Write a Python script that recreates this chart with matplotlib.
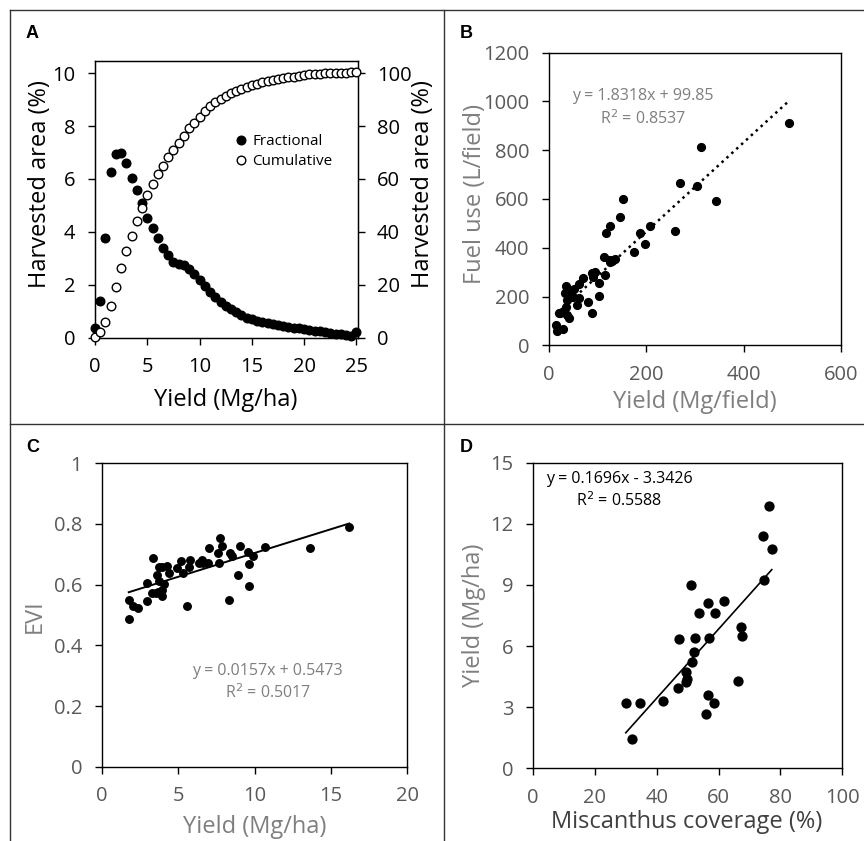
import numpy as np
import matplotlib
matplotlib.use("Agg")
import matplotlib.pyplot as plt
from matplotlib.lines import Line2D

plt.rcParams['font.family'] = ['Open Sans', 'DejaVu Sans']

# ---- panel A data: harvested area vs yield ----
a_yield = [0, 0.5, 1, 1.5, 2, 2.5, 3, 3.5, 4, 4.5, 5, 5.5, 6, 6.5, 7, 7.5, 8, 8.5, 9, 9.5,
           10, 10.5, 11, 11.5, 12, 12.5, 13, 13.5, 14, 14.5, 15, 15.5, 16, 16.5, 17, 17.5,
           18, 18.5, 19, 19.5, 20, 20.5, 21, 21.5, 22, 22.5, 23, 23.5, 24, 24.5, 25]
a_fractional = [0.35, 1.38, 3.78, 6.28, 6.94, 6.98, 6.62, 6.05, 5.57, 5.09, 4.54, 4.16, 3.77,
                3.38, 3.12, 2.87, 2.77, 2.75, 2.6, 2.4, 2.2, 1.97, 1.73, 1.55, 1.35, 1.2,
                1.08, 0.97, 0.85, 0.76, 0.7, 0.64, 0.6, 0.55, 0.5, 0.47, 0.45, 0.42, 0.38,
                0.35, 0.32, 0.3, 0.27, 0.25, 0.21, 0.17, 0.14, 0.13, 0.12, 0.07, 0.2]
a_cumulative = [0.3, 2.0, 6.1, 12.0, 19.0, 26.2, 32.8, 38.6, 44.3, 48.9, 54.0, 58.0, 61.8,
                65.0, 68.3, 71.0, 73.6, 76.3, 79.2, 81.3, 83.5, 85.7, 87.4, 89.0, 90.4,
                91.5, 92.5, 93.3, 94.0, 94.7, 95.4, 96.0, 96.5, 97.0, 97.4, 97.8, 98.1,
                98.4, 98.7, 99.0, 99.3, 99.5, 99.7, 99.8, 99.9, 100.0, 100.0, 100.1, 100.2,
                100.3, 100.3]

# ---- panel B data: fuel use vs yield per field ----
b_yield = [492, 312, 343, 305, 270, 260, 208, 197, 187, 174, 152, 147, 125, 117, 114, 136,
           130, 125, 115, 104, 94, 91, 89, 104, 89, 81, 71, 62, 62, 59, 51, 45, 42, 35, 34,
           38, 36, 42, 37, 31, 23, 30, 14, 18, 22, 50, 126]
b_fuel = [910, 813, 590, 655, 664, 467, 489, 417, 462, 384, 599, 527, 489, 462, 361, 353,
          347, 340, 288, 257, 302, 282, 295, 203, 131, 176, 275, 250, 195, 165, 230, 200,
          210, 243, 216, 186, 156, 111, 124, 138, 134, 65, 83, 59, 131, 200, 350]

# ---- panel C data: EVI vs yield ----
c_yield = [16.2, 13.63, 10.69, 9.88, 9.55, 9.66, 9.66, 9.03, 8.94, 8.55, 8.4, 8.33, 7.9,
           7.74, 7.61, 7.66, 7.0, 6.94, 6.54, 6.39, 6.65, 5.76, 5.71, 5.56, 5.19, 5.34,
           4.95, 4.4, 4.3, 3.95, 3.73, 3.64, 3.77, 4.1, 3.95, 3.95, 3.53, 3.27, 3.38, 2.99,
           2.94, 2.4, 2.07, 1.77, 1.77, 3.7]
c_evi = [0.789, 0.722, 0.725, 0.695, 0.708, 0.667, 0.597, 0.729, 0.633, 0.695, 0.705, 0.549,
         0.727, 0.753, 0.705, 0.670, 0.722, 0.673, 0.681, 0.673, 0.673, 0.681, 0.658, 0.531,
         0.679, 0.637, 0.656, 0.637, 0.662, 0.658, 0.658, 0.632, 0.612, 0.602, 0.582, 0.563,
         0.571, 0.571, 0.689, 0.607, 0.547, 0.522, 0.531, 0.549, 0.486, 0.575]

# ---- panel D data: yield vs miscanthus coverage ----
d_cover = [76.2, 74.2, 77.2, 74.8, 51.0, 56.6, 61.7, 53.7, 58.9, 67.3, 67.7, 47.2, 52.4,
           57.0, 51.9, 51.5, 49.6, 49.9, 49.6, 46.8, 66.4, 56.5, 58.4, 56.0, 42.0, 34.7,
           30.0, 31.9]
d_yield = [12.87, 11.39, 10.75, 9.26, 8.98, 8.13, 8.21, 7.61, 7.61, 6.92, 6.48, 6.36, 6.41,
           6.41, 5.73, 5.22, 4.73, 4.37, 4.22, 3.96, 4.29, 3.6, 3.22, 2.67, 3.3, 3.22, 3.22,
           1.46]

grey = '#595959'
lgrey = '#7f7f7f'
W, H = 864, 841

fig = plt.figure(figsize=(8.64, 8.41), dpi=100)


def box(l, t, r, b):
    return [l / W, 1 - b / H, (r - l) / W, (b - t) / H]


def style(ax, tcol):
    for s in ax.spines.values():
        s.set_linewidth(1.0)
        s.set_color('black')
    ax.tick_params(direction='out', length=5, width=1, labelsize=14.5,
                   labelcolor=tcol, pad=9, top=False, right=False)


# panel A
axA = fig.add_axes(box(94.5, 61, 357.5, 337.7))
axA.plot(a_yield, a_fractional, 'o', color='black', ms=6.2, clip_on=False, zorder=3)
axA.set_xlim(-0.05, 25.1)
axA.set_ylim(0, 10.46)
axA.set_xticks([0, 5, 10, 15, 20, 25])
axA.set_yticks([0, 2, 4, 6, 8, 10])
style(axA, 'black')
axA.set_xlabel('Yield (Mg/ha)', fontsize=17, va='center')
axA.xaxis.set_label_coords(0.5, -0.225)
axA.set_ylabel('Harvested area (%)', fontsize=17, va='center')
axA.yaxis.set_label_coords(-0.207, 0.555)
axA2 = axA.twinx()
axA2.plot(a_yield, a_cumulative, 'o', mfc='white', mec='black', mew=1.0, ms=6.2,
          clip_on=False, zorder=3)
axA2.set_ylim(0, 104.6)
axA2.set_yticks([0, 20, 40, 60, 80, 100])
axA2.tick_params(axis='y', direction='out', length=5, width=1, labelsize=14.5, pad=9)
axA2.set_ylabel('Harvested area (%)', fontsize=17, va='center', rotation=90)
axA2.yaxis.set_label_coords(1.249, 0.555)
hA = [Line2D([], [], ls='none', marker='o', color='black', ms=6.2),
      Line2D([], [], ls='none', marker='o', mfc='white', mec='black', ms=6.2)]
axA2.legend(hA, ['Fractional', 'Cumulative'], loc='upper left',
            bbox_to_anchor=(0.535, 0.735), frameon=False, fontsize=11,
            handlelength=0.7, handletextpad=0.4, borderpad=0, borderaxespad=0,
            labelspacing=0.3)

# panel B
axB = fig.add_axes(box(548.7, 52.7, 841.3, 345.3))
axB.plot(b_yield, b_fuel, 'o', color='black', ms=5.6)
bx = np.array([min(b_yield), max(b_yield)])
axB.plot(bx, 1.8318 * bx + 99.85, ':', color='black', lw=1.8)
axB.set_xlim(0, 600)
axB.set_ylim(0, 1200)
axB.set_xticks([0, 200, 400, 600])
axB.set_yticks(range(0, 1201, 200))
style(axB, grey)
axB.set_xlabel('Yield (Mg/field)', fontsize=17, color=lgrey, va='center')
axB.xaxis.set_label_coords(0.498, -0.193)
axB.set_ylabel('Fuel use (L/field)', fontsize=17, color=lgrey, va='center')
axB.yaxis.set_label_coords(-0.252, 0.517)
axB.text(193, 973, 'y = 1.8318x + 99.85\nR$^2$ = 0.8537', ha='center', va='center',
         fontsize=11.5, color=lgrey, linespacing=1.3)

# panel C
axC = fig.add_axes(box(101.7, 463.3, 407.3, 766.7))
axC.plot(c_yield, c_evi, 'o', color='black', ms=5.4)
cx = np.array([min(c_yield), max(c_yield)])
axC.plot(cx, 0.0157 * cx + 0.5473, '-', color='black', lw=1.4)
axC.set_xlim(0, 20)
axC.set_ylim(0, 1)
axC.set_xticks([0, 5, 10, 15, 20])
axC.set_yticks([0, 0.2, 0.4, 0.6, 0.8, 1])
axC.set_yticklabels(['0', '0.2', '0.4', '0.6', '0.8', '1'])
style(axC, grey)
axC.set_xlabel('Yield (Mg/ha)', fontsize=17, color=lgrey, va='center')
axC.xaxis.set_label_coords(0.499, -0.198)
axC.set_ylabel('EVI', fontsize=17, color=lgrey, va='center')
axC.yaxis.set_label_coords(-0.218, 0.497)
axC.text(10.86, 0.278, 'y = 0.0157x + 0.5473\nR$^2$ = 0.5017', ha='center', va='center',
         fontsize=11.5, color=lgrey, linespacing=1.3)

# panel D
axD = fig.add_axes(box(533, 462.7, 842.3, 768.3))
axD.plot(d_cover, d_yield, 'o', color='black', ms=6.4)
dx = np.array([min(d_cover), max(d_cover)])
axD.plot(dx, 0.1696 * dx - 3.3426, '-', color='black', lw=1.2)
axD.set_xlim(0, 100)
axD.set_ylim(0, 15)
axD.set_xticks(range(0, 101, 20))
axD.set_yticks(range(0, 16, 3))
style(axD, grey)
axD.set_xlabel('Miscanthus coverage (%)', fontsize=17, color='#404040', va='center')
axD.xaxis.set_label_coords(0.496, -0.175)
axD.set_ylabel('Yield (Mg/ha)', fontsize=17, color=lgrey, va='center')
axD.yaxis.set_label_coords(-0.192, 0.502)
axD.text(27.8, 13.64, 'y = 0.1696x - 3.3426\nR$^2$ = 0.5588', ha='center', va='center',
         fontsize=11.5, color='black', linespacing=1.3)

# panel letters
for lab, x, y in [('A', 26, 33), ('B', 460, 33), ('C', 26, 448), ('D', 460, 448)]:
    fig.text(x / W, 1 - y / H, lab, fontsize=13, fontweight='bold', ha='left', va='center',
             family='Liberation Sans')

# frame lines between panels
lc = '#333333'
fig.add_artist(Line2D([10 / W, 1], [1 - 10 / H, 1 - 10 / H], color=lc, lw=1))
fig.add_artist(Line2D([10 / W, 10 / W], [0, 1 - 10 / H], color=lc, lw=1))
fig.add_artist(Line2D([443.5 / W, 443.5 / W], [0, 1 - 10 / H], color=lc, lw=1))
fig.add_artist(Line2D([10 / W, 1], [1 - 424 / H, 1 - 424 / H], color=lc, lw=1))

fig.savefig('out.png', dpi=100)
